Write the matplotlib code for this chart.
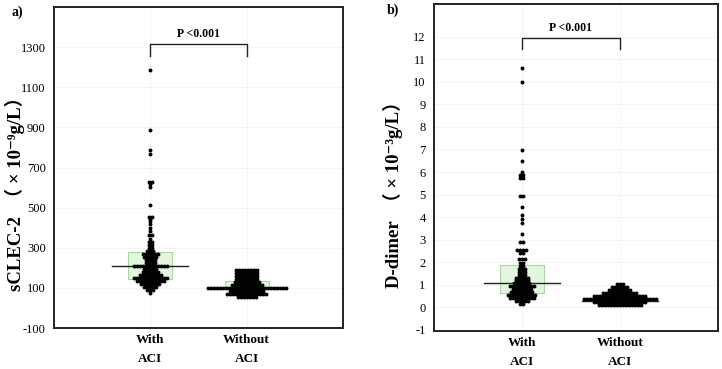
import numpy as np
import matplotlib.pyplot as plt

# ----- Data -----
groups = ['With\nACI', 'Without\nACI']

# panel a: sCLEC-2, dot rows (value, number of dots in the row)
sclec_with_vals = [75, 90, 105, 120, 135, 150, 165, 180, 195, 210, 225, 240, 255, 270, 285, 300,
                   315, 330, 345, 365, 385, 400, 420, 435, 445, 455, 515, 605, 620, 630, 765, 785, 885, 1185]
sclec_with_counts = [1, 3, 5, 7, 10, 12, 8, 6, 5, 12, 4, 4, 5, 6, 3, 2,
                     2, 2, 1, 2, 1, 1, 1, 1, 1, 2, 1, 1, 1, 2, 1, 1, 1, 1]
sclec_without_vals = [55, 70, 85, 100, 115, 130, 145, 160, 175, 190]
sclec_without_counts = [7, 14, 12, 27, 11, 9, 8, 8, 8, 8]
sclec_q1 = [144, 95]
sclec_median = [208, 100]
sclec_q3 = [277, 134]

# panel b: D-dimer
dd_with_vals = [0.15, 0.28, 0.41, 0.54, 0.67, 0.80, 0.93, 1.06, 1.19, 1.32, 1.45, 1.58, 1.71, 1.84,
                1.97, 2.13, 2.40, 2.53, 2.90, 3.24, 3.75, 3.90, 4.10, 4.45, 4.95, 5.75, 5.88, 6.00,
                6.49, 6.98, 10.0, 10.6]
dd_with_counts = [2, 5, 9, 10, 8, 7, 9, 6, 5, 5, 3, 3, 3, 2,
                  2, 3, 2, 4, 2, 1, 1, 1, 1, 1, 2, 2, 2, 1,
                  1, 1, 1, 1]
dd_without_vals = [0.10, 0.23, 0.36, 0.50, 0.63, 0.76, 0.90, 1.03]
dd_without_counts = [15, 18, 25, 18, 12, 8, 6, 3]
dd_q1 = [0.62, 0.20]
dd_median = [1.07, 0.30]
dd_q3 = [1.87, 0.50]

plt.rcParams['font.family'] = ['Liberation Serif', 'DejaVu Serif', 'Noto Sans CJK SC']

W, H = 722, 369
fig = plt.figure(figsize=(W / 100, H / 100), dpi=100)
ax_a = fig.add_axes([0.075, 0.111, 0.400, 0.870])
ax_b = fig.add_axes([0.601, 0.103, 0.393, 0.886])

dot_px = 3.0


def dot_rows(ax, pos, vals, counts, xrange, ax_px):
    step = dot_px * xrange / ax_px
    for v, n in zip(vals, counts):
        xs = pos + (np.arange(n) - (n - 1) / 2) * step
        ax.scatter(xs, [v] * n, s=8, color='black', zorder=4, linewidths=0)


def draw_panel(ax, rows, q1, med, q3, xlim, ylim, yticks, p_y):
    ax.set_xlim(*xlim)
    ax.set_ylim(*ylim)
    ax_px = ax.get_position().width * W
    xrange = xlim[1] - xlim[0]
    box_hw = 22 * xrange / ax_px
    med_hw = 38 * xrange / ax_px
    for i, pos in enumerate([1, 2]):
        ax.add_patch(plt.Rectangle((pos - box_hw, q1[i]), 2 * box_hw, q3[i] - q1[i],
                                   facecolor='#e2f6dd', edgecolor='#a9d6a2', lw=0.8, zorder=2))
        ax.plot([pos - med_hw, pos + med_hw], [med[i], med[i]], color='#222222', lw=1.0, zorder=3)
        dot_rows(ax, pos, rows[i][0], rows[i][1], xrange, ax_px)

    # significance bracket
    top, drop = p_y
    ax.plot([1, 1, 2, 2], [drop, top, top, drop], color='#222222', lw=1.0, zorder=3)
    ax.text(1.5, top + (ylim[1] - ylim[0]) * 0.012, 'P <0.001', ha='center', va='bottom',
            fontsize=8.5, fontweight='bold')

    ax.set_xticks([1, 2])
    ax.set_xticklabels(groups, fontsize=9.5, fontweight='bold', linespacing=1.8)
    ax.set_yticks(yticks)
    ax.set_yticklabels([str(t) for t in yticks], fontsize=9)
    ax.tick_params(axis='y', length=0, pad=6)
    ax.tick_params(axis='x', length=0, pad=4.5)
    ax.grid(True, color='#f3f3f3', lw=0.6, zorder=0)
    ax.set_axisbelow(True)
    for sp in ax.spines.values():
        sp.set_linewidth(1.4)
        sp.set_color('#222222')


draw_panel(ax_a,
           [(sclec_with_vals, sclec_with_counts), (sclec_without_vals, sclec_without_counts)],
           sclec_q1, sclec_median, sclec_q3,
           (0, 3), (-100, 1500), list(range(-100, 1301, 200)), (1315, 1255))

draw_panel(ax_b,
           [(dd_with_vals, dd_with_counts), (dd_without_vals, dd_without_counts)],
           dd_q1, dd_median, dd_q3,
           (0.1, 3.0), (-1.05, 13.45), list(range(-1, 13)), (11.95, 11.45))

# y axis titles
fig.text(15 / W, 1 - 189 / H, 'sCLEC-2  （ × 10⁻⁹g/L）', rotation=90, ha='center', va='center',
         fontsize=13.5, fontweight='bold')
fig.text(393 / W, 1 - 190 / H, 'D-dimer  （ × 10⁻³g/L）', rotation=90, ha='center', va='center',
         fontsize=13.5, fontweight='bold')

fig.text(12 / W, 1 - 12 / H, 'a)', fontsize=10, fontweight='bold', va='center')
fig.text(387 / W, 1 - 10 / H, 'b)', fontsize=10, fontweight='bold', va='center')

fig.savefig('out.png', dpi=100)
